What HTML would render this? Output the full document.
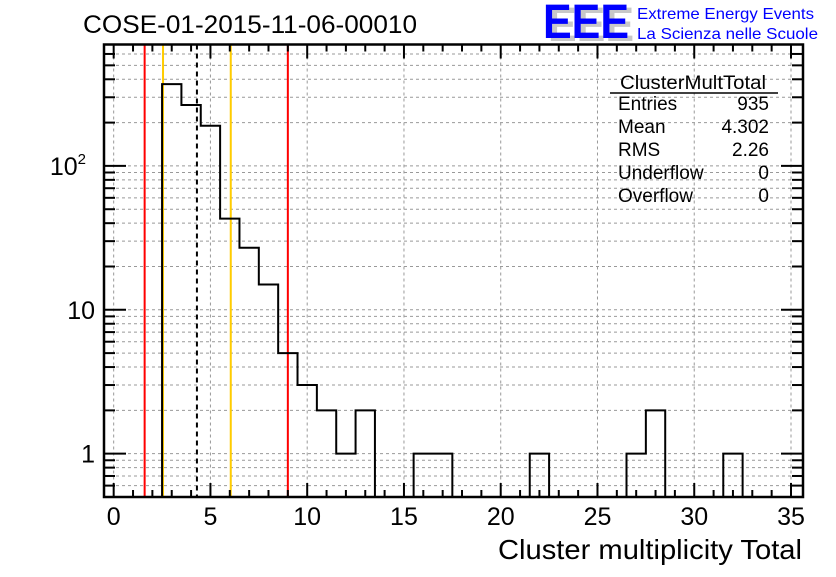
<!DOCTYPE html>
<html><head><meta charset="utf-8"><style>
body{margin:0;background:#fff;}
svg text{font-family:"Liberation Sans",sans-serif;}
</style></head><body>
<svg id="chart" width="836" height="572" xmlns="http://www.w3.org/2000/svg">
<rect width="836" height="572" fill="#fff"/>
<text x="83" y="33" font-size="25" textLength="334" lengthAdjust="spacingAndGlyphs">COSE-01-2015-11-06-00010</text>
<g>
<text x="548" y="41" font-size="48" fill="#c8c8c8" font-weight="bold" textLength="86" lengthAdjust="spacingAndGlyphs">EEE</text>
<text x="543" y="38" font-size="48" fill="#0000ff" font-weight="bold" textLength="86" lengthAdjust="spacingAndGlyphs">EEE</text>
<text x="637" y="19" font-size="16" fill="#0000ff" textLength="177" lengthAdjust="spacingAndGlyphs">Extreme Energy Events</text>
<text x="637" y="39" font-size="16" fill="#0000ff" textLength="181" lengthAdjust="spacingAndGlyphs">La Scienza nelle Scuole</text>
</g>
<g id="grid"></g>
<g id="marks"></g>
<g id="axes"></g>
<g font-size="19">
<text x="620" y="89" textLength="146" lengthAdjust="spacingAndGlyphs">ClusterMultTotal</text>
<line x1="610" y1="93" x2="778" y2="93" stroke="#000" stroke-width="1.5"/>
<text x="618" y="110">Entries</text><text x="769" y="110" text-anchor="end">935</text>
<text x="618" y="133">Mean</text><text x="769" y="133" text-anchor="end">4.302</text>
<text x="618" y="156">RMS</text><text x="769" y="156" text-anchor="end">2.26</text>
<text x="618" y="179">Underflow</text><text x="769" y="179" text-anchor="end">0</text>
<text x="618" y="202">Overflow</text><text x="769" y="202" text-anchor="end">0</text>
</g>
<text x="498" y="559" font-size="28" textLength="304" lengthAdjust="spacingAndGlyphs">Cluster multiplicity Total</text>
</svg>
<script>
const binCenters=[3,4,5,6,7,8,9,10,11,12,13,14,15,16,17,18,19,20,21,22,23,24,25,26,27,28,29,30,31,32];
const counts=[370,265,190,43,27,15,5,3,2,1,2,0,0,1,1,0,0,0,0,1,0,0,0,0,1,2,0,0,0,1];
const redLines=[1.6,9.0];
const orangeLines=[2.55,6.05];
const meanLine=[4.302];
const xTicks=[0,5,10,15,20,25,30,35];
const yTickLabels=["1","10","10²"];
const yTickValues=[1,10,100];

const L=104,R=803,T=44.5,B=497;
const X0=-0.5,X1=35.62,Y0=0.5,Y1=698;
const sx=v=>L+(v-X0)/(X1-X0)*(R-L);
const sy=v=>B-(Math.log10(v)-Math.log10(Y0))/(Math.log10(Y1)-Math.log10(Y0))*(B-T);
const NS="http://www.w3.org/2000/svg";
function mk(tag,attrs,parent){const e=document.createElementNS(NS,tag);for(const k in attrs)e.setAttribute(k,attrs[k]);parent.appendChild(e);return e;}
const grid=document.getElementById('grid'),marks=document.getElementById('marks'),axes=document.getElementById('axes');
for(const t of xTicks){const g=mk('line',{x1:sx(t),x2:sx(t),y1:T,y2:B,stroke:'#999','stroke-dasharray':'3,3','stroke-width':1},grid);
}
const minor=[];for(let d=-1;d<=2;d++)for(let m=1;m<10;m++){const v=m*Math.pow(10,d);if(v>=Y0&&v<=Y1)minor.push(v);}
for(const v of minor){const g=mk('line',{x1:L,x2:R,y1:sy(v),y2:sy(v),stroke:'#999','stroke-dasharray':'3,3','stroke-width':1},grid);
}
function vline(v,color,name,dash){const l=mk('line',{x1:sx(v),x2:sx(v),y1:T,y2:B,stroke:color,'stroke-width':2},marks);if(dash)l.setAttribute('stroke-dasharray',dash);
}
redLines.forEach(v=>vline(v,'#ff0000','red-limit-line'));
orangeLines.forEach(v=>vline(v,'#ffcc00','orange-limit-line'));
meanLine.forEach(v=>vline(v,'#000','mean-line','5,4'));
let d='';
binCenters.forEach((c,i)=>{const lo=c-0.5,hi=c+0.5;const v=counts[i]>0?counts[i]:Y0;
d+=(i===0?`M${sx(lo)},${B}`:'')+`L${sx(lo)},${sy(v)}L${sx(hi)},${sy(v)}`;});
d+=`L${sx(binCenters[binCenters.length-1]+0.5)},${B}`;
const h=mk('path',{d:d,fill:'none',stroke:'#000','stroke-width':2},marks);


const fr=mk('rect',{x:L,y:T,width:R-L,height:B-T,fill:'none',stroke:'#000','stroke-width':2.5},axes);


for(let v=0;v<=35;v+=1){const big=v%5===0;const len=big?14:7;
mk('line',{x1:sx(v),x2:sx(v),y1:B,y2:B-len,stroke:'#000','stroke-width':2},axes);
mk('line',{x1:sx(v),x2:sx(v),y1:T,y2:T+len,stroke:'#000','stroke-width':2},axes);}
xTicks.forEach(t=>{const tx=mk('text',{x:sx(t),y:525,'font-size':25,'text-anchor':'middle'},axes);tx.textContent=t;
});
for(const v of minor){const big=[1,10,100].includes(v);const len=big?22:11;
mk('line',{x1:L,x2:L+len,y1:sy(v),y2:sy(v),stroke:'#000','stroke-width':2},axes);
mk('line',{x1:R,x2:R-len,y1:sy(v),y2:sy(v),stroke:'#000','stroke-width':2},axes);}
yTickValues.forEach((v,i)=>{const tx=mk('text',{x:95,y:sy(v)+9,'font-size':25,'text-anchor':'end'},axes);
if(yTickLabels[i]==="10²"){tx.textContent='10';const s=mk('tspan',{dy:-11,'font-size':15},tx);s.textContent='2';tx.setAttribute('x',86);}
else tx.textContent=yTickLabels[i];
});
</script>
</body></html>
